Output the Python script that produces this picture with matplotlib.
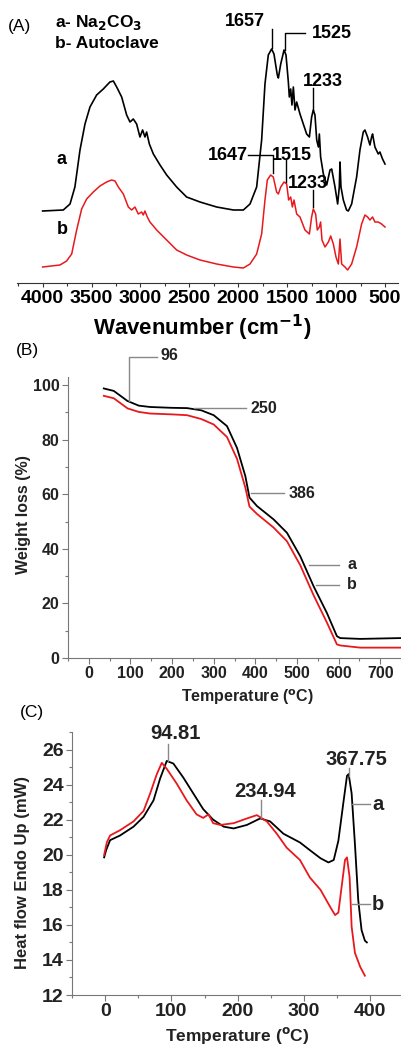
import numpy as np
import matplotlib.pyplot as plt
from matplotlib.ticker import MultipleLocator

plt.rcParams['font.family'] = ['Liberation Sans', 'DejaVu Sans']

# ---- (A) FTIR, arbitrary intensity units ----
wn_a = [4000, 3789, 3720, 3670, 3618, 3567, 3516, 3448, 3380, 3312, 3277, 3243, 3192, 3141,
        3107, 3073, 3039, 3005, 2978, 2954, 2937, 2909, 2868, 2800, 2732, 2630, 2528, 2391,
        2221, 2050, 1948, 1880, 1812, 1761, 1727, 1693, 1659, 1635, 1601, 1590, 1566, 1532,
        1512, 1488, 1478, 1464, 1451, 1437, 1420, 1403, 1369, 1335, 1301, 1273, 1250, 1233,
        1216, 1198, 1181, 1171, 1158, 1130, 1096, 1062, 1045, 1011, 984, 967, 960, 950, 926,
        893, 875, 841, 790, 756, 722, 705, 678, 654, 637, 627, 603, 569, 552, 525, 500]
ir_a = [72, 73, 79, 96, 133, 159, 176, 188, 194, 201, 202, 196, 186, 168,
        161, 164, 159, 146, 153, 146, 151, 139, 129, 118, 108, 96, 86, 81,
        76, 73, 73, 79, 96, 143, 199, 228, 234, 229, 208, 205, 219, 233,
        228, 201, 186, 194, 178, 196, 173, 181, 169, 159, 149, 146, 166, 173,
        168, 143, 136, 149, 126, 109, 98, 113, 114, 96, 79, 96, 121, 96, 83,
        73, 72, 79, 106, 133, 151, 153, 146, 138, 146, 149, 136, 129, 131, 124, 119]

wn_b = [4000, 3823, 3755, 3703, 3652, 3601, 3550, 3482, 3414, 3346, 3295, 3260, 3226, 3175,
        3124, 3090, 3056, 3022, 2988, 2971, 2954, 2930, 2903, 2834, 2732, 2630, 2528, 2391,
        2221, 2050, 1948, 1880, 1812, 1761, 1727, 1703, 1669, 1642, 1608, 1590, 1566, 1532,
        1505, 1485, 1464, 1447, 1430, 1403, 1369, 1318, 1273, 1250, 1233, 1209, 1192, 1171,
        1158, 1144, 1113, 1079, 1055, 1028, 1001, 977, 960, 943, 909, 882, 841, 790, 739,
        705, 678, 654, 627, 603, 569, 535, 500]
ir_b = [16, 18, 22, 29, 53, 74, 84, 91, 97, 101, 103, 102, 96, 89,
        76, 73, 76, 69, 71, 68, 72, 66, 61, 53, 43, 33, 28, 23,
        19, 16, 15, 19, 29, 49, 83, 103, 108, 106, 91, 89, 96, 101,
        99, 83, 86, 76, 83, 69, 66, 53, 49, 66, 74, 69, 53, 56,
        61, 43, 36, 41, 47, 39, 26, 19, 44, 19, 16, 13, 19, 36, 59,
        68, 66, 63, 66, 61, 61, 59, 56]

# ---- (B) TGA ----
tga_T = [36, 60, 93, 120, 148, 200, 236, 270, 300, 332, 356, 376, 386, 404, 444, 476,
         508, 540, 572, 596, 604, 652, 748]
tga_a = [98.8, 97.9, 94.2, 92.5, 92.0, 91.7, 91.6, 90.8, 89.0, 85.0, 77.0, 66.7, 58.8,
         55.7, 50.8, 45.9, 37.3, 26.3, 16.5, 8.0, 7.3, 7.0, 7.3]
tga_b = [96.1, 95.2, 91.5, 90.2, 89.6, 89.3, 89.0, 87.6, 85.6, 81.0, 73.0, 62.5, 55.5,
         52.8, 47.8, 42.8, 34.0, 23.0, 13.0, 5.0, 4.6, 3.8, 3.8]

# ---- (C) DSC ----
dsc_T_a = [-1.5, 1.5, 7.5, 22.6, 42.8, 58, 73, 83, 93, 103, 118, 133, 148, 163, 179, 194,
           214, 234, 249, 269, 284, 294, 309, 325, 337, 345, 352, 360, 365, 367.5, 372,
           377, 382, 387, 392, 395]
dsc_a = [19.85, 20.26, 20.83, 21.1, 21.6, 22.16, 23.1, 24.35, 25.35, 25.2, 24.4, 23.5,
         22.6, 22.0, 21.6, 21.5, 21.7, 22.07, 21.9, 21.2, 20.9, 20.7, 20.26, 19.8, 19.56,
         19.7, 20.8, 23.1, 24.5, 24.6, 23.5, 20.6, 17.4, 15.7, 15.1, 15.0]
dsc_T_b = [-1.5, 2.5, 7.5, 22.6, 42.8, 58, 68, 78, 85.5, 93, 108, 123, 138, 148, 156, 163,
           174, 194, 214, 229, 244, 259, 274, 294, 309, 325, 340, 347, 352, 357, 362, 365,
           369, 372, 377, 385, 392]
dsc_b = [19.98, 20.7, 21.1, 21.4, 21.9, 22.5, 23.5, 24.6, 25.24, 24.9, 24.06, 23.1, 22.3,
         22.1, 22.3, 21.8, 21.7, 21.8, 22.07, 22.26, 21.9, 21.2, 20.4, 19.7, 18.7, 18.0,
         17.0, 16.56, 16.7, 18.2, 19.7, 19.85, 18.7, 15.9, 14.4, 13.6, 13.1]

W, H = 401, 1048
fig = plt.figure(figsize=(W / 100, H / 100), dpi=100)


def rect(l, t, r, b):
    return [l / W, 1 - b / H, (r - l) / W, (b - t) / H]


def ftext(x, y, s, **kw):
    fig.text(x / W, 1 - y / H, s, **kw)


bold = dict(fontweight='bold')
spine_c = '#333333'
gray = '#777777'

# ================= (A) =================
axA = fig.add_axes(rect(17, 10, 398, 283))
axA.plot(wn_a, ir_a, color='black', lw=1.2)
axA.plot(wn_b, ir_b, color='#e8191c', lw=1.1)
axA.set_xlim(4262, 367)
axA.set_ylim(0, 273)
for s in ['top', 'right', 'left']:
    axA.spines[s].set_visible(False)
axA.spines['bottom'].set_color(spine_c)
axA.set_yticks([])
axA.set_xticks([4000, 3500, 3000, 2500, 2000, 1500, 1000, 500])
axA.xaxis.set_minor_locator(MultipleLocator(250))
axA.tick_params(axis='x', which='major', direction='out', length=3, width=0.8, pad=2,
                labelsize=14, colors=spine_c)
axA.tick_params(axis='x', which='minor', direction='out', length=2, width=0.8, colors=spine_c)
for lab in axA.get_xticklabels():
    lab.set_fontweight('bold')
    lab.set_color('black')
axA.set_xlabel('Wavenumber (cm$^{\\mathbf{-1}}$)', fontsize=16, fontweight='bold')
axA.xaxis.set_label_coords(0.486, -0.165)
axA.xaxis.label.set_va('center')

lk = dict(color='black', lw=1.0, clip_on=False)
tk = dict(fontsize=13, fontweight='bold', va='center')
# 1657
axA.plot([1657, 1657], [235, 254], **lk)
axA.text(1931, 262, '1657', ha='center', **tk)
# 1525
axA.plot([1525, 1525, 1318], [233, 250, 250], **lk)
axA.text(1246, 250, '1525', ha='left', **tk)
# 1233 (a)
axA.plot([1233, 1233], [173, 195], **lk)
axA.text(1140, 202, '1233', ha='center', **tk)
# 1647
axA.plot([1900, 1647, 1647], [128, 128, 110], **lk)
axA.text(1900, 128, '1647', ha='right', **tk)
# 1515
axA.plot([1515, 1515], [101, 123], **lk)
axA.text(1450, 128, '1515', ha='center', **tk)
# 1233 (b)
axA.plot([1233, 1233], [76, 93], **lk)
axA.text(1287, 100, '1233', ha='center', **tk)
axA.text(3802, 123, 'a', ha='center', **tk)
axA.text(3802, 53, 'b', ha='center', **tk)

ftext(8, 27, '(A)', fontsize=12.5, va='center', ha='left')
ftext(55, 22, 'a- Na$_\\mathbf{2}$CO$_\\mathbf{3}$', fontsize=12.5, va='center', ha='left', **bold)
ftext(55, 44, 'b- Autoclave', fontsize=12.5, va='center', ha='left', **bold)

# ================= (B) =================
axB = fig.add_axes(rect(68, 377, 401, 658))
axB.plot(tga_T, tga_a, color='black', lw=1.3)
axB.plot(tga_T, tga_b, color='#e8191c', lw=1.3)
axB.set_xlim(-50, 750)
axB.set_ylim(0, 103)
for s in ['top', 'right']:
    axB.spines[s].set_visible(False)
for s in ['left', 'bottom']:
    axB.spines[s].set_color(gray)
axB.set_xticks([0, 100, 200, 300, 400, 500, 600, 700])
axB.set_yticks([0, 20, 40, 60, 80, 100])
axB.xaxis.set_minor_locator(MultipleLocator(50))
axB.yaxis.set_minor_locator(MultipleLocator(10))
axB.tick_params(which='major', direction='out', length=4, width=0.8, colors=gray,
                labelsize=11.5, pad=2)
axB.tick_params(which='minor', direction='out', length=2.5, width=0.8, colors=gray)
for lab in axB.get_xticklabels() + axB.get_yticklabels():
    lab.set_fontweight('bold')
    lab.set_color('#222222')
axB.set_xlabel('Temperature ($^{\\mathbf{o}}$C)', fontsize=11.5, fontweight='bold', color='#222222')
axB.xaxis.set_label_coords(0.538, -0.139)
axB.xaxis.label.set_va('center')
axB.set_ylabel('Weight loss (%)', fontsize=11.5, fontweight='bold', color='#222222')
axB.yaxis.set_label_coords(-0.135, 0.509)
axB.yaxis.label.set_va('center')

gk = dict(color='#888888', lw=1.0, clip_on=False)
tb = dict(fontsize=11.5, fontweight='bold', va='center', ha='left', color='#222222')
axB.plot([96, 96, 165], [94.1, 110.3, 110.3], **gk)
axB.text(172, 111, '96', **tb)
axB.plot([252, 377], [91.5, 91.5], **gk)
axB.text(389, 91.5, '250', **tb)
axB.plot([389, 468], [60.3, 60.3], **gk)
axB.text(480, 60.3, '386', **tb)
axB.plot([528, 600], [34.2, 34.2], **gk)
axB.text(621, 34.2, 'a', **tb)
axB.plot([545, 600], [26.8, 26.8], **gk)
axB.text(621, 26.8, 'b', **tb)

ftext(16, 350, '(B)', fontsize=12.5, va='center', ha='left')

# ================= (C) =================
axC = fig.add_axes(rect(72, 732, 400, 995))
axC.plot(dsc_T_a, dsc_a, color='black', lw=1.3)
axC.plot(dsc_T_b, dsc_b, color='#e8191c', lw=1.3)
axC.set_xlim(-50, 445)
axC.set_ylim(12, 27)
for s in ['top', 'right']:
    axC.spines[s].set_visible(False)
for s in ['left', 'bottom']:
    axC.spines[s].set_color(gray)
axC.set_xticks([0, 100, 200, 300, 400])
axC.set_yticks([12, 14, 16, 18, 20, 22, 24, 26])
axC.xaxis.set_minor_locator(MultipleLocator(50))
axC.yaxis.set_minor_locator(MultipleLocator(1))
axC.tick_params(which='major', direction='out', length=4, width=0.8, colors=gray,
                labelsize=14, pad=2)
axC.tick_params(which='minor', direction='out', length=2.5, width=0.8, colors=gray)
for lab in axC.get_xticklabels() + axC.get_yticklabels():
    lab.set_fontweight('bold')
    lab.set_color('#222222')
axC.set_xlabel('Temperature ($^{\\mathbf{o}}$C)', fontsize=12.5, fontweight='bold', color='#222222')
axC.xaxis.set_label_coords(0.503, -0.155)
axC.xaxis.label.set_va('center')
axC.set_ylabel('Heat flow Endo Up (mW)', fontsize=12, fontweight='bold', color='#222222')
axC.yaxis.set_label_coords(-0.152, 0.464)
axC.yaxis.label.set_va('center')

tc = dict(fontsize=14.5, fontweight='bold', va='center', ha='center', color='#222222')
axC.plot([94.81, 94.81], [25.37, 26.34], **gk)
axC.text(106, 26.9, '94.81', **tc)
axC.plot([234.94, 234.94], [22.1, 23.1], **gk)
axC.text(241.5, 23.6, '234.94', **tc)
axC.plot([367.75, 367.75], [24.5, 24.97], **gk)
axC.text(380, 25.43, '367.75', **tc)
axC.plot([372, 400], [22.87, 22.87], **gk)
axC.text(412, 22.87, 'a', **tc)
axC.plot([372, 400], [17.17, 17.17], **gk)
axC.text(412, 17.17, 'b', **tc)

ftext(20, 713, '(C)', fontsize=12.5, va='center', ha='left')

fig.savefig('out.png', dpi=100)
